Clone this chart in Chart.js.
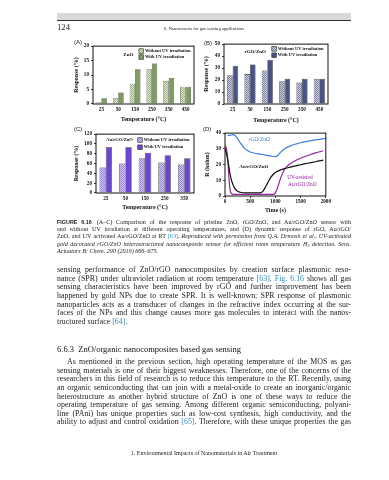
<!DOCTYPE html>
<html>
<head>
<meta charset="utf-8">
<script src="https://cdn.jsdelivr.net/npm/chart.js@4.4.1/dist/chart.umd.min.js"></script>
<style>
  html, body { margin: 0; padding: 0; background: #fff; }
  body { width: 389px; height: 480px; position: relative; overflow: hidden;
         font-family: "Liberation Serif", serif; color: #1c1c1c; }
  .abs { position: absolute; will-change: transform; }
  canvas { position: absolute; }
  .band { left: 57px; top: 13px; width: 294px; height: 7px; background: #d9d9d9; }
  .rule { left: 57px; top: 20px; width: 294px; height: 1px; background: #333; }
  .lines { left: 57px; width: 294px; }
  .lines div { white-space: nowrap; }
  .ref { color: #2f8fc4; }
  .plabel { font-family: "Liberation Sans", sans-serif; font-size: 6px; line-height: 7px; color: #222; }
</style>
</head>
<body>
<div class="abs band"></div>
<div class="abs rule"></div>
<div class="abs" style="left:57px;top:22px;font-size:8.7px;line-height:10px;">124</div>
<div class="abs" style="left:57px;top:25.5px;width:294px;text-align:center;font-size:4.6px;line-height:5px;">6. Nanosensors for gas sensing applications</div>

<div class="abs plabel" style="left:74px;top:39px;">(A)</div>
<div class="abs plabel" style="left:204px;top:39.5px;">(B)</div>
<div class="abs plabel" style="left:74px;top:125.5px;">(C)</div>
<div class="abs plabel" style="left:203px;top:125.5px;">(D)</div>

<canvas id="chartA"></canvas>
<canvas id="chartB"></canvas>
<canvas id="chartC"></canvas>
<canvas id="chartD"></canvas>

<div class="abs lines" style="top:218.7px;font-size:6.1px;line-height:7.17px;">
  <div><span style="font-weight:bold;font-family:'Liberation Sans',sans-serif;font-size:5.4px;margin-right:5px;">FIGURE 6.16</span>(A–C) Comparison of the response of pristine ZnO, rGO/ZnO, and Au/rGO/ZnO sensor with</div>
  <div>and without UV irradiation at different operating temperatures, and (D) dynamic response of rGO, Au/rGO/</div>
  <div>ZnO, and UV activated Au/rGO/ZnO at RT <span class="ref">[63]</span>. <i>Reproduced with permission from Q.A. Drmosh et al., UV-activated</i></div>
  <div><i>gold decorated rGO/ZnO heterostructured nanocomposite sensor for efficient room temperature H<span style="font-size:4px;position:relative;top:1px;">2</span> detection. Sens.</i></div>
  <div class="last"><i>Actuators B: Chem. 290 (2019) 666–675.</i></div>
</div>

<div class="abs lines" style="top:265.7px;font-size:7.9px;line-height:8.67px;">
  <div>sensing performance of ZnO/rGO nanocomposites by creation surface plasmonic reso-</div>
  <div>nance (SPR) under ultraviolet radiation at room temperature <span class="ref">[63]</span>. <span class="ref">Fig. 6.16</span> shows all gas</div>
  <div>sensing characteristics have been improved by rGO and further improvement has been</div>
  <div>happened by gold NPs due to create SPR. It is well-known; SPR response of plasmonic</div>
  <div>nanoparticles acts as a transducer of changes in the refractive index occurring at the sur-</div>
  <div>faces of the NPs and this change causes more gas molecules to interact with the nanos-</div>
  <div class="last">tructured surface <span class="ref">[64]</span>.</div>
</div>

<div class="abs" style="left:57px;top:344px;font-size:8.5px;line-height:10.6px;color:#111;">6.6.3&nbsp;&nbsp;ZnO/organic nanocomposites based gas sensing</div>

<div class="abs lines" style="top:358px;font-size:7.9px;line-height:8.63px;">
  <div style="padding-left:10px;">As mentioned in the previous section, high operating temperature of the MOS as gas</div>
  <div>sensing materials is one of their biggest weaknesses. Therefore, one of the concerns of the</div>
  <div>researchers in this field of research is to reduce this temperature to the RT. Recently, using</div>
  <div>an organic semiconducting that can join with a metal-oxide to create an inorganic/organic</div>
  <div>heterostructure as another hybrid structure of ZnO is one of these ways to reduce the</div>
  <div>operating temperature of gas sensing. Among different organic semiconducting, polyani-</div>
  <div>line (PAni) has unique properties such as low-cost synthesis, high conductivity, and the</div>
  <div>ability to adjust and control oxidation <span class="ref">[65]</span>. Therefore, with these unique properties the gas</div>
</div>

<div class="abs" style="left:57px;top:450px;width:294px;text-align:center;font-size:6px;line-height:7px;">1. Environmental Impacts of Nanomaterials in Air Treatment</div>

<script>
// panels A-C: response (%) vs operating temperature
const tempsAB = ["25", "50", "150", "250", "350", "450"];
const tempsC = ["25", "50", "150", "250", "350"];
const legendLabels = ["Without UV irradiation", "With UV irradiation"];

const znoWithout = [0.5, 2, 7, 12, 8, 6];
const znoWith = [2, 4, 12, 14, 9, 6];

const rgoWithout = [24, 25, 28, 19, 18, 21];
const rgoWith = [32, 33, 37, 21, 21, 21];

const auWithout = [52, 60, 71, 62, 58];
const auWith = [93, 93, 82, 77, 71];

const ticksA = [0, 5, 10, 15, 20];
const ticksB = [0, 10, 20, 30, 40, 50];
const ticksC = [0, 20, 40, 60, 80, 100, 120];

// panel D: dynamic response R (kohm) vs time (s)
const rgoTime = [50, 100, 150, 200, 250, 300, 400, 500, 600, 700, 800, 900, 1000, 1050, 1100, 1200, 1300, 1400, 1500, 1600, 1700, 1800, 1900, 2000];
const rgoR = [38.5, 38.6, 39, 38.5, 36.5, 34, 30, 28, 27.2, 26.6, 26, 25.5, 25, 25.8, 27.8, 30.3, 31.9, 33, 33.9, 34.6, 35.2, 35.7, 36.2, 36.7];

const auTime = [0, 30, 60, 90, 120, 150, 200, 250, 300, 400, 500, 600, 700, 750, 800, 850, 900, 950, 1000, 1100, 1200, 1300, 1400, 1500, 1600, 1700, 1800, 1950];
const auR = [30, 27, 22, 16, 11, 8, 4.5, 3, 2.4, 2, 2, 2, 2, 3, 5.5, 8.5, 11.5, 13.5, 15, 16.6, 17.6, 18.4, 19.2, 19.9, 20.6, 21.2, 21.8, 22.8];

const uvTime = [0, 20, 40, 60, 80, 100, 130, 200, 400, 600, 800, 950, 1000, 1050, 1100, 1150, 1200, 1250, 1300, 1400, 1500, 1600, 1700, 1800, 1950];
const uvR = [32, 31, 28, 21, 11, 4, 1.5, 1, 1, 1, 1, 1, 2, 6, 11, 15, 17.8, 19.5, 20.7, 22.6, 24, 25.3, 26.4, 27.4, 28.8];

const ticksDx = [0, 500, 1000, 1500, 2000];
const ticksDy = [0, 5, 10, 15, 20, 25, 30, 35, 40];

const INK = "#111";
const TICK_FONT = { family: "Liberation Serif", size: 5.2, weight: "bold" };
const TITLE_FONT = { family: "Liberation Serif", size: 6, weight: "bold" };

// stretch the spaces of each printed line so it fills the 294px measure
function justifyLines() {
  document.querySelectorAll(".lines div").forEach((div) => {
    div.style.wordSpacing = "0px";
    if (div.classList.contains("last")) return;
    const range = document.createRange();
    range.selectNodeContents(div);
    const natural = range.getBoundingClientRect().width;
    const pad = parseFloat(getComputedStyle(div).paddingLeft) || 0;
    const spaces = (div.textContent.match(/ /g) || []).length;
    if (spaces) div.style.wordSpacing = (294 - pad - natural) / spaces + "px";
  });
}
justifyLines();
if (document.fonts) document.fonts.ready.then(justifyLines);

// small checker tile, used for the "without UV" bars
function checker(c1, c2) {
  const tile = document.createElement("canvas");
  tile.width = 2;
  tile.height = 2;
  const t = tile.getContext("2d");
  t.fillStyle = c1;
  t.fillRect(0, 0, 2, 2);
  t.fillStyle = c2;
  t.fillRect(0, 0, 1, 1);
  t.fillRect(1, 1, 1, 1);
  return t.createPattern(tile, "repeat");
}

const frame = {
  id: "frame",
  afterDatasetsDraw(chart) {
    const { ctx, chartArea: a } = chart;
    ctx.save();
    ctx.strokeStyle = INK;
    ctx.lineWidth = 1;
    ctx.strokeRect(a.left, a.top, a.right - a.left, a.bottom - a.top);
    ctx.restore();
  },
};

const boxLegend = {
  id: "boxLegend",
  afterDraw(chart, args, o) {
    if (!o.labels) return;
    const { ctx, chartArea: a } = chart;
    const x = a.left + o.x * (a.right - a.left);
    let y = a.top + o.y * (a.bottom - a.top);
    ctx.save();
    ctx.font = o.font;
    ctx.textBaseline = "middle";
    chart.data.datasets.forEach((ds, i) => {
      ctx.fillStyle = ds.backgroundColor;
      ctx.fillRect(x, y - o.box / 2, o.box, o.box);
      ctx.strokeStyle = "#222";
      ctx.lineWidth = 0.6;
      ctx.strokeRect(x, y - o.box / 2, o.box, o.box);
      ctx.fillStyle = INK;
      ctx.fillText(o.labels[i], x + o.box + 1.5, y);
      y += o.row;
    });
    ctx.restore();
  },
};

const notes = {
  id: "notes",
  afterDraw(chart, args, o) {
    if (!o.items) return;
    const { ctx, chartArea: a, scales } = chart;
    for (const n of o.items) {
      let x, y;
      if (n.data) {
        x = scales.x.getPixelForValue(n.x);
        y = scales.y.getPixelForValue(n.y);
      } else {
        x = a.left + n.x * (a.right - a.left);
        y = a.top + n.y * (a.bottom - a.top);
      }
      ctx.save();
      ctx.font = n.font;
      ctx.fillStyle = n.color;
      ctx.textAlign = "center";
      ctx.textBaseline = "middle";
      ctx.fillText(n.text, x, y);
      ctx.restore();
    }
  },
};

// place a canvas so its plot area lands on box {l,t,r,b}; yw/xh = axis sizes
function placeCanvas(id, box) {
  const el = document.getElementById(id);
  const left = box.l - box.yw;
  const top = box.t - 4;
  el.width = box.r + 4 - left;
  el.height = box.b + box.xh - top;
  el.style.left = left + "px";
  el.style.top = top + "px";
  return el;
}

function axisX(title, xh) {
  return {
    grid: { display: false, drawTicks: false },
    border: { display: false },
    ticks: { font: TICK_FONT, color: INK, padding: 3, maxRotation: 0, autoSkip: false },
    title: { display: true, text: title, font: TITLE_FONT, color: INK, padding: 0 },
    afterFit(s) { s.height = xh; },
  };
}

function axisY(title, tickList, yw) {
  return {
    min: tickList[0],
    max: tickList[tickList.length - 1],
    grid: { drawOnChartArea: false, tickLength: 2, color: INK, lineWidth: 0.8 },
    border: { display: false },
    ticks: { font: TICK_FONT, color: INK, padding: 2, callback: (v) => String(v) },
    title: { display: true, text: title, font: TITLE_FONT, color: INK, padding: 0 },
    afterBuildTicks(s) { s.ticks = tickList.map((v) => ({ value: v })); },
    afterFit(s) { s.width = yw; },
  };
}

function barPanel(id, box, labels, without, withUV, colors, tickList, legend, tag) {
  const el = placeCanvas(id, box);
  return new Chart(el, {
    type: "bar",
    data: {
      labels: labels,
      datasets: [
        { label: legendLabels[0], data: without, backgroundColor: checker(colors[0], colors[1]),
          borderColor: "#222", borderWidth: 0.6, borderSkipped: "bottom" },
        { label: legendLabels[1], data: withUV, backgroundColor: colors[2],
          borderColor: "#222", borderWidth: 0.6, borderSkipped: "bottom" },
      ],
    },
    options: {
      responsive: false,
      animation: false,
      devicePixelRatio: 1,
      layout: { padding: { top: 4, right: 4, left: 0, bottom: 0 } },
      datasets: { bar: { categoryPercentage: 0.64, barPercentage: 1 } },
      scales: {
        x: axisX("Temperature (°C)", box.xh),
        y: axisY("Response (%)", tickList, box.yw),
      },
      plugins: {
        legend: { display: false },
        tooltip: { enabled: false },
        boxLegend: Object.assign({ labels: legendLabels }, legend),
        notes: { items: [tag] },
      },
    },
    plugins: [frame, boxLegend, notes],
  });
}

const legendFont = "bold 4.5px 'Liberation Serif'";
const tagFont = "bold 5px 'Liberation Serif'";

barPanel("chartA", { l: 93, t: 45, r: 194, b: 104, yw: 20, xh: 19 },
  tempsAB, znoWithout, znoWith, ["#dfe9cc", "#9db283", "#7e9b60"], ticksA,
  { x: 0.455, y: 0.085, box: 4.5, row: 6, font: legendFont },
  { text: "ZnO", x: 0.35, y: 0.14, font: tagFont, color: INK });

barPanel("chartB", { l: 224, t: 43, r: 328, b: 104, yw: 21, xh: 20 },
  tempsAB, rgoWithout, rgoWith, ["#cfd1e0", "#7a80a2", "#4b5384"], ticksB,
  { x: 0.46, y: 0.08, box: 4.5, row: 6.3, font: legendFont },
  { text: "rGO/ZnO", x: 0.30, y: 0.13, font: tagFont, color: INK });

barPanel("chartC", { l: 96, t: 133, r: 194, b: 193, yw: 23, xh: 18 },
  tempsC, auWithout, auWith, ["#d3caf3", "#9582dc", "#6b46cf"], ticksC,
  { x: 0.426, y: 0.1, box: 4.5, row: 7.2, font: legendFont },
  { text: "Au/rGO/ZnO", x: 0.24, y: 0.1, font: "bold 4.6px 'Liberation Serif'", color: INK });

// panel D
const boxD = { l: 225, t: 132, r: 328, b: 196, yw: 21, xh: 18 };
const elD = placeCanvas("chartD", boxD);
const toPoints = (ts, vs) => ts.map((t, i) => ({ x: t, y: vs[i] }));

new Chart(elD, {
  type: "line",
  data: {
    datasets: [
      { label: "rGO/ZnO", data: toPoints(rgoTime, rgoR), borderColor: "#3d7fe3" },
      { label: "Au/rGO/ZnO", data: toPoints(auTime, auR), borderColor: "#111" },
      { label: "UV-assisted Au/rGO/ZnO", data: toPoints(uvTime, uvR), borderColor: "#93239f" },
    ],
  },
  options: {
    responsive: false,
    animation: false,
    devicePixelRatio: 1,
    layout: { padding: { top: 4, right: 4, left: 0, bottom: 0 } },
    elements: {
      point: { radius: 0 },
      line: { borderWidth: 1.2, cubicInterpolationMode: "monotone" },
    },
    scales: {
      x: {
        type: "linear",
        min: 0,
        max: 2000,
        grid: { drawOnChartArea: false, tickLength: 2, color: INK, lineWidth: 0.8 },
        border: { display: false },
        ticks: { font: TICK_FONT, color: INK, padding: 1, maxRotation: 0, callback: (v) => String(v) },
        title: { display: true, text: "Time (s)", font: TITLE_FONT, color: INK, padding: 0 },
        afterBuildTicks(s) { s.ticks = ticksDx.map((v) => ({ value: v })); },
        afterFit(s) { s.height = boxD.xh; },
      },
      y: axisY("R (kohm)", ticksDy, boxD.yw),
    },
    plugins: {
      legend: { display: false },
      tooltip: { enabled: false },
      notes: {
        items: [
          { text: "rGO/ZnO", x: 680, y: 35.6, data: true, font: "5.5px 'Liberation Serif'", color: "#3d7fe3" },
          { text: "Au/rGO/ZnO", x: 573, y: 18.8, data: true, font: "bold 5px 'Liberation Serif'", color: INK },
          { text: "UV-assisted", x: 1485, y: 11.9, data: true, font: "5.3px 'Liberation Serif'", color: "#93239f" },
          { text: "Au/rGO/ZnO", x: 1534, y: 7.5, data: true, font: "5.3px 'Liberation Serif'", color: "#93239f" },
        ],
      },
    },
  },
  plugins: [frame, notes],
});
</script>
</body>
</html>
